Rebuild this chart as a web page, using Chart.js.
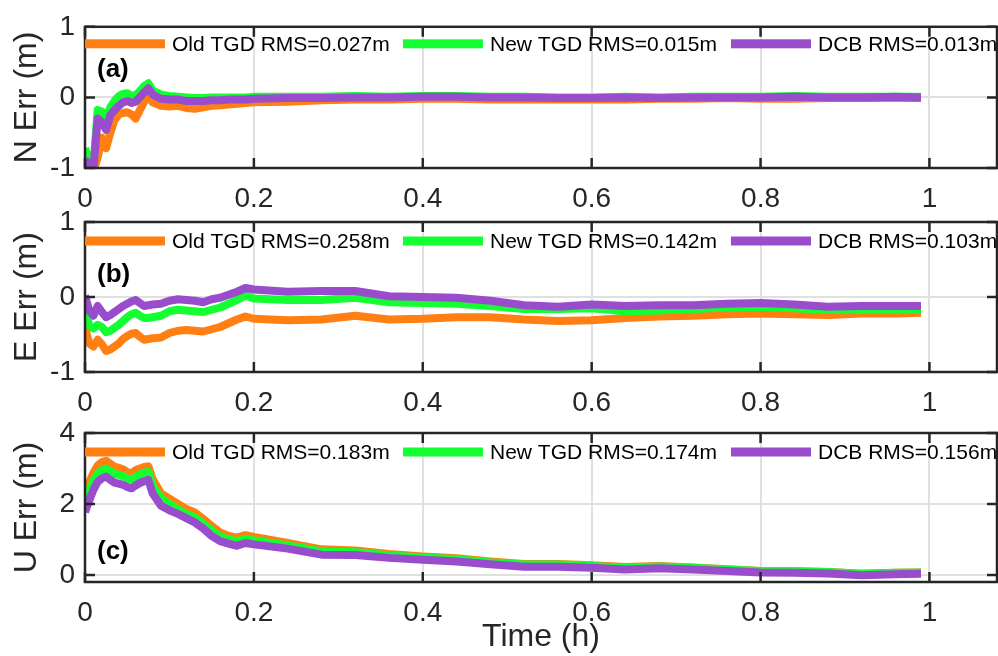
<!DOCTYPE html>
<html>
<head>
<meta charset="utf-8">
<title>TGD / DCB position error</title>
<script src="https://cdn.jsdelivr.net/npm/chart.js@4"></script>
<style>
    html, body { margin: 0; padding: 0; background: #fff; }
    #wrap { position: relative; width: 998px; height: 656px; }
    #wrap canvas { position: absolute; left: 0; top: 0; }
</style>
</head>
<body>
<div id="wrap">
    <canvas id="panelN" width="998" height="656"></canvas>
    <canvas id="panelE" width="998" height="656"></canvas>
    <canvas id="panelU" width="998" height="656"></canvas>
</div>
<script>
// time axis (hours), shared by every series
const timeH = [0, 0.005, 0.01, 0.015, 0.02, 0.025, 0.03, 0.035, 0.04, 0.045, 0.05, 0.055, 0.06, 0.065, 0.07, 0.075, 0.08,
    0.09, 0.1, 0.11, 0.12, 0.13, 0.14, 0.15, 0.16, 0.17, 0.18, 0.19, 0.2,
    0.24, 0.28, 0.32, 0.36, 0.4, 0.44, 0.48, 0.52, 0.56, 0.6, 0.64, 0.68, 0.72, 0.76, 0.8, 0.84, 0.88, 0.92, 0.96, 0.99];

// (a) North error (m)
const nOld = [-1.05, -1.05, -1.05, -0.85, -0.57, -0.72, -0.5, -0.32, -0.24, -0.22, -0.21, -0.24, -0.3, -0.18, -0.06, 0.01, -0.07,
    -0.12, -0.13, -0.12, -0.15, -0.16, -0.14, -0.12, -0.11, -0.1, -0.09, -0.08, -0.07,
    -0.06, -0.04, -0.03, -0.03, -0.02, -0.02, -0.03, -0.03, -0.03, -0.03, -0.03, -0.02, -0.02, -0.01, -0.02, -0.02, -0.01, -0.01, -0.01, -0.01];
const nNew = [-0.72, -0.9, -0.98, -0.18, -0.2, -0.3, -0.14, -0.05, 0.02, 0.05, 0.06, 0.02, 0.03, 0.09, 0.16, 0.2, 0.1,
    0.04, 0.02, 0.01, 0.0, -0.01, -0.01, 0, 0, 0, 0, 0, 0.01,
    0.01, 0.01, 0.02, 0.01, 0.02, 0.02, 0.01, 0.01, 0, 0, 0.01, 0, 0.01, 0.01, 0.01, 0.02, 0.01, 0.01, 0.01, 0.01];
const nDcb = [-0.88, -0.95, -1.0, -0.3, -0.35, -0.46, -0.25, -0.18, -0.12, -0.07, -0.05, -0.08, -0.06, 0.0, 0.07, 0.13, 0.04,
    -0.02, -0.03, -0.03, -0.05, -0.05, -0.05, -0.04, -0.04, -0.03, -0.03, -0.03, -0.02,
    -0.01, -0.01, 0, 0, 0.01, 0.01, 0, 0, -0.01, -0.01, 0, -0.01, 0, 0, 0, 0.01, 0, 0, 0.01, 0];

// (b) East error (m)
const eOld = [-0.4, -0.62, -0.66, -0.57, -0.63, -0.72, -0.7, -0.66, -0.62, -0.56, -0.52, -0.49, -0.48, -0.53, -0.57, -0.56, -0.55,
    -0.54, -0.48, -0.45, -0.44, -0.45, -0.46, -0.43, -0.4, -0.35, -0.3, -0.26, -0.29,
    -0.31, -0.3, -0.25, -0.3, -0.29, -0.27, -0.27, -0.3, -0.32, -0.31, -0.28, -0.26, -0.25, -0.23, -0.22, -0.23, -0.24, -0.22, -0.22, -0.21];
const eNew = [-0.17, -0.38, -0.42, -0.37, -0.4, -0.47, -0.45, -0.41, -0.37, -0.32, -0.27, -0.23, -0.21, -0.25, -0.28, -0.28, -0.27,
    -0.25, -0.19, -0.17, -0.18, -0.19, -0.2, -0.17, -0.14, -0.09, -0.04, 0.02, -0.02,
    -0.04, -0.04, -0.01, -0.07, -0.08, -0.09, -0.12, -0.16, -0.16, -0.15, -0.19, -0.18, -0.16, -0.14, -0.13, -0.15, -0.17, -0.17, -0.17, -0.17];
const eDcb = [0.02, -0.18, -0.25, -0.12, -0.2, -0.27, -0.24, -0.2, -0.16, -0.12, -0.09, -0.06, -0.04, -0.08, -0.12, -0.11, -0.1,
    -0.09, -0.05, -0.03, -0.04, -0.05, -0.07, -0.03, -0.01, 0.03, 0.07, 0.12, 0.1,
    0.07, 0.08, 0.08, 0.01, 0.0, -0.01, -0.05, -0.11, -0.13, -0.1, -0.12, -0.11, -0.11, -0.09, -0.08, -0.1, -0.13, -0.12, -0.12, -0.12];

// (c) Up error (m)
const uOld = [2.2, 2.6, 2.88, 3.08, 3.18, 3.22, 3.13, 3.05, 3.02, 2.98, 2.9, 2.86, 2.95, 3.0, 3.04, 3.06, 2.7,
    2.3, 2.15, 2.0, 1.86, 1.76, 1.58, 1.38, 1.2, 1.1, 1.05, 1.12, 1.07,
    0.9, 0.72, 0.69, 0.59, 0.52, 0.47, 0.38, 0.31, 0.31, 0.27, 0.22, 0.25, 0.21, 0.16, 0.11, 0.1, 0.08, 0.03, 0.06, 0.07];
const uNew = [2.05, 2.4, 2.65, 2.85, 2.95, 3.0, 2.92, 2.85, 2.82, 2.78, 2.72, 2.68, 2.76, 2.83, 2.88, 2.9, 2.52,
    2.15, 2.0, 1.85, 1.72, 1.62, 1.45, 1.25, 1.08, 1.0, 0.95, 1.02, 0.97,
    0.83, 0.66, 0.64, 0.55, 0.49, 0.44, 0.35, 0.29, 0.29, 0.25, 0.2, 0.24, 0.2, 0.15, 0.11, 0.1, 0.08, 0.03, 0.06, 0.07];
const uDcb = [1.77, 2.1, 2.4, 2.62, 2.72, 2.77, 2.68, 2.6, 2.57, 2.54, 2.48, 2.44, 2.52, 2.59, 2.64, 2.68, 2.3,
    1.95, 1.82, 1.72, 1.6, 1.48, 1.31, 1.1, 0.95, 0.88, 0.82, 0.9, 0.86,
    0.74, 0.57, 0.56, 0.48, 0.43, 0.38, 0.3, 0.23, 0.23, 0.2, 0.15, 0.19, 0.15, 0.11, 0.07, 0.06, 0.04, -0.01, 0.02, 0.03];

// ticks and labels
const xTicks = [0, 0.2, 0.4, 0.6, 0.8, 1];
const yTicksNE = [-1, 0, 1];
const yTicksU = [0, 2, 4];
const legendN = ['Old TGD RMS=0.027m', 'New TGD RMS=0.015m', 'DCB RMS=0.013m'];
const legendE = ['Old TGD RMS=0.258m', 'New TGD RMS=0.142m', 'DCB RMS=0.103m'];
const legendU = ['Old TGD RMS=0.183m', 'New TGD RMS=0.174m', 'DCB RMS=0.156m'];

const colors = ['#ff7f13', '#14ff32', '#994dcc'];
const axisColor = '#262626';
const gridColor = '#e0e0e0';
const family = "'Liberation Sans', Arial, Helvetica, sans-serif";

const toPoints = (ys) => timeH.map((t, i) => ({ x: t, y: ys[i] }));

// frame with inward ticks, in-axes legend and the panel tag
const panelDeco = {
    id: 'panelDeco',
    afterDraw(chart, args, opts) {
        const { ctx, chartArea: a, scales } = chart;
        ctx.save();
        ctx.strokeStyle = axisColor;
        ctx.lineWidth = 2.5;
        ctx.beginPath();
        scales.x.ticks.forEach(t => {
            const px = scales.x.getPixelForValue(t.value);
            ctx.moveTo(px, a.top); ctx.lineTo(px, a.top + 10);
            ctx.moveTo(px, a.bottom); ctx.lineTo(px, a.bottom - 10);
        });
        scales.y.ticks.forEach(t => {
            const py = scales.y.getPixelForValue(t.value);
            ctx.moveTo(a.left, py); ctx.lineTo(a.left + 10, py);
            ctx.moveTo(a.right, py); ctx.lineTo(a.right - 10, py);
        });
        ctx.stroke();
        ctx.strokeRect(a.left, a.top, a.right - a.left, a.bottom - a.top);

        // legend row
        const ly = a.top + opts.legendY;
        const starts = [85, 403, 731];
        ctx.font = '21px ' + family;
        ctx.textBaseline = 'middle';
        ctx.textAlign = 'left';
        chart.data.datasets.forEach((ds, i) => {
            ctx.fillStyle = ds.borderColor;
            ctx.fillRect(starts[i], ly - 4.5, 80, 9);
            ctx.fillStyle = '#000';
            ctx.fillText(ds.label, starts[i] + 87, ly + 1);
        });

        ctx.font = 'bold 26px ' + family;
        ctx.fillStyle = '#000';
        ctx.fillText(opts.tag, 97, opts.tagY);
        ctx.restore();
    }
};

function makePanel(id, p) {
    const series = [p.old, p.nw, p.dcb];
    return new Chart(document.getElementById(id), {
        type: 'line',
        data: {
            datasets: series.map((ys, i) => ({
                label: p.legend[i],
                data: toPoints(ys),
                borderColor: colors[i],
                backgroundColor: colors[i],
                order: 3 - i,
                clip: 0
            }))
        },
        options: {
            responsive: false,
            animation: false,
            devicePixelRatio: 1,
            layout: { padding: { top: p.top, right: 1, left: 0, bottom: p.padBottom } },
            elements: {
                line: { borderWidth: 8, tension: 0, borderJoinStyle: 'round', fill: false },
                point: { radius: 0 }
            },
            plugins: {
                legend: { display: false },
                tooltip: { enabled: false },
                panelDeco: { legendY: p.legendY, tag: p.tag, tagY: p.tagY }
            },
            scales: {
                x: {
                    type: 'linear',
                    min: 0,
                    max: 1.08,
                    afterBuildTicks: (s) => { s.ticks = xTicks.map(v => ({ value: v })); },
                    afterFit: (s) => { s.height = p.xHeight; },
                    grid: { color: gridColor, lineWidth: 2, drawTicks: false },
                    border: { display: false },
                    ticks: {
                        padding: 14,
                        maxRotation: 0,
                        color: axisColor,
                        font: { family: family, size: 28 },
                        callback: (v) => String(v)
                    },
                    title: {
                        display: !!p.xTitle,
                        text: p.xTitle || '',
                        color: axisColor,
                        font: { family: family, size: 32 },
                        padding: { top: 0, bottom: 0 }
                    }
                },
                y: {
                    type: 'linear',
                    min: p.yMin,
                    max: p.yMax,
                    afterBuildTicks: (s) => { s.ticks = p.yTicks.map(v => ({ value: v })); },
                    afterFit: (s) => { s.width = 85; },
                    grid: { color: gridColor, lineWidth: 2, drawTicks: false },
                    border: { display: false },
                    ticks: {
                        padding: 10,
                        color: axisColor,
                        font: { family: family, size: 28 },
                        callback: (v) => String(v)
                    },
                    title: {
                        display: true,
                        text: p.yTitle,
                        color: axisColor,
                        font: { family: family, size: 32 },
                        padding: { top: 8, bottom: 0 }
                    }
                }
            }
        },
        plugins: [panelDeco]
    });
}

makePanel('panelN', {
    old: nOld, nw: nNew, dcb: nDcb, legend: legendN,
    yMin: -1, yMax: 1, yTicks: yTicksNE, yTitle: 'N Err (m)',
    top: 21, xHeight: 40, padBottom: 448, legendY: 17, tag: '(a)', tagY: 70
});
makePanel('panelE', {
    old: eOld, nw: eNew, dcb: eDcb, legend: legendE,
    yMin: -1, yMax: 1, yTicks: yTicksNE, yTitle: 'E Err (m)',
    top: 222, xHeight: 40, padBottom: 244, legendY: 19, tag: '(b)', tagY: 275
});
makePanel('panelU', {
    old: uOld, nw: uNew, dcb: uDcb, legend: legendU,
    yMin: -0.2, yMax: 4, yTicks: yTicksU, yTitle: 'U Err (m)', xTitle: 'Time (h)',
    top: 433, xHeight: 74, padBottom: 0, legendY: 19, tag: '(c)', tagY: 552
});
</script>
</body>
</html>
